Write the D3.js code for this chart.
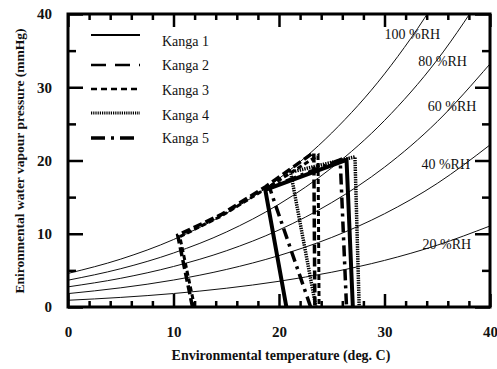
<!DOCTYPE html>
<html>
<head>
<meta charset="utf-8">
<script src="https://cdn.jsdelivr.net/npm/d3@7"></script>
<style>
  html, body { margin: 0; padding: 0; background: #fff; }
  svg { display: block; font-family: "Liberation Serif", "Times New Roman", serif; }
</style>
</head>
<body>
<div id="chart"></div>
<script>
// Water vapour pressure vs temperature, with RH curves and Kanga regions

const temps = [0, 5, 10, 15, 20, 25, 30, 35, 40]

// RH curves (mmHg), read at each temperature above
const rh100 = [4.58, 6.54, 9.21, 12.79, 17.54, 23.76, 31.82, 42.18, 55.32]
const rh80 = [3.66, 5.23, 7.37, 10.23, 14.03, 19.01, 25.46, 33.74, 44.26]
const rh60 = [2.75, 3.92, 5.53, 7.67, 10.52, 14.26, 19.09, 25.31, 33.19]
const rh40 = [1.83, 2.62, 3.68, 5.12, 7.02, 9.50, 12.73, 16.87, 22.13]
const rh20 = [0.92, 1.31, 1.84, 2.56, 3.51, 4.75, 6.36, 8.44, 11.06]
const rhSeries = [rh100, rh80, rh60, rh40, rh20]

const rhLabels = ['100 %RH', '80 %RH', '60 %RH', '40 %RH', '20 %RH']
const rhLabelAt = [[30.0, 36.6], [33.2, 32.9], [34.1, 26.7], [33.5, 18.9], [33.6, 7.85]]

// Kanga outlines: [temperature, vapour pressure]
const kangaNames = ['Kanga 1', 'Kanga 2', 'Kanga 3', 'Kanga 4', 'Kanga 5']
const kanga1 = [[20.7, 0], [18.7, 16.0], [26.4, 20.1], [27.0, 0]]
const kanga2 = [[11.8, 0], [10.4, 9.8], [14.5, 12.6], [18.7, 16.4], [23.3, 21.1], [23.4, 0]]
const kanga3 = [[12.0, 0], [10.6, 9.6], [14.5, 12.4], [18.8, 16.2], [23.7, 20.7], [23.8, 0]]
const kanga4 = [[23.5, 0], [21.1, 18.4], [27.2, 20.5], [27.6, 0]]
const kanga5 = [[23.0, 0], [19.1, 16.3], [25.8, 20.1], [26.4, 0]]
const kangaData = [kanga1, kanga2, kanga3, kanga4, kanga5]

const xTicks = [0, 10, 20, 30, 40]
const yTicks = [0, 10, 20, 30, 40]

// Line styles per series (chart / legend)
const styles = [
  { width: 4, dash: null, legendWidth: 2, legendDash: null },
  { width: 3.5, dash: '9,4', legendWidth: 2.5, legendDash: '15,9' },
  { width: 3, dash: '5,3', legendWidth: 2.5, legendDash: '6,4' },
  { width: 3.5, dash: '1.4,1', legendWidth: 3, legendDash: '1.2,1' },
  { width: 3.5, dash: '11,5,3,5', legendWidth: 3.5, legendDash: '14,6,3,6' }
]

const W = 497, H = 369
const margin = { top: 14, right: 7, bottom: 62, left: 68 }
const iw = W - margin.left - margin.right
const ih = H - margin.top - margin.bottom

const svg = d3.select('#chart').append('svg')
  .attr('width', W)
  .attr('height', H)

const g = svg.append('g')
  .attr('transform', `translate(${margin.left},${margin.top})`)

const x = d3.scaleLinear().domain([0, 40]).range([0, iw])
const y = d3.scaleLinear().domain([0, 40]).range([ih, 0])

svg.append('defs').append('clipPath')
  .attr('id', 'plot-clip')
  .append('rect')
  .attr('width', iw)
  .attr('height', ih)

const plot = g.append('g').attr('clip-path', 'url(#plot-clip)')

// RH curves
const curveLine = d3.line()
  .x((d, i) => x(temps[i]))
  .y(d => y(d))
  .curve(d3.curveMonotoneX)

plot.selectAll('.rh')
  .data(rhSeries)
  .join('path')
  .attr('class', 'rh')
  .attr('d', curveLine)
  .attr('fill', 'none')
  .attr('stroke', '#111')
  .attr('stroke-width', 1)

// Kanga outlines
const kLine = d3.line()
  .x(d => x(d[0]))
  .y(d => y(d[1]))

plot.selectAll('.kanga')
  .data(kangaData)
  .join('path')
  .attr('class', 'kanga')
  .attr('d', kLine)
  .attr('fill', 'none')
  .attr('stroke', '#000')
  .attr('stroke-width', (d, i) => styles[i].width)
  .attr('stroke-dasharray', (d, i) => styles[i].dash)
  .attr('stroke-linejoin', 'miter')

// RH labels
g.selectAll('.rh-label')
  .data(rhLabels)
  .join('text')
  .attr('class', 'rh-label')
  .attr('x', (d, i) => x(rhLabelAt[i][0]))
  .attr('y', (d, i) => y(rhLabelAt[i][1]))
  .attr('font-size', 14)
  .attr('fill', '#111')
  .text(d => d)

// Axes: ticks pointing inward on all four sides
function addAxis(axis, transform) {
  const a = g.append('g').attr('transform', transform).call(axis)
  a.select('.domain').remove()
  a.selectAll('line').attr('stroke', '#000')
  return a
}

const xMinor = d3.range(0, 41, 2).filter(v => v % 10 !== 0)
const yMinor = d3.range(0, 41, 5).filter(v => v % 10 !== 0)

addAxis(d3.axisBottom(x).tickValues(xTicks).tickSize(-13).tickPadding(19).tickFormat(d3.format('d')), `translate(0,${ih})`)
addAxis(d3.axisBottom(x).tickValues(xMinor).tickSize(-6).tickFormat(''), `translate(0,${ih})`)
addAxis(d3.axisTop(x).tickValues(xTicks).tickSize(-13).tickFormat(''), 'translate(0,0)')
addAxis(d3.axisTop(x).tickValues(xMinor).tickSize(-6).tickFormat(''), 'translate(0,0)')
addAxis(d3.axisLeft(y).tickValues(yTicks).tickSize(-15).tickPadding(16).tickFormat(d3.format('d')), 'translate(0,0)')
addAxis(d3.axisLeft(y).tickValues(yMinor).tickSize(-8).tickFormat(''), 'translate(0,0)')
addAxis(d3.axisRight(y).tickValues(yTicks).tickSize(-15).tickFormat(''), `translate(${iw},0)`)
addAxis(d3.axisRight(y).tickValues(yMinor).tickSize(-8).tickFormat(''), `translate(${iw},0)`)

g.selectAll('.tick line').attr('stroke-width', 2.5)

g.selectAll('.tick text')
  .style('font-size', '15px')
  .style('font-weight', 'bold')
  .style('font-family', '"Liberation Serif", "Times New Roman", serif')
  .attr('fill', '#111')

// Frame
g.append('rect')
  .attr('width', iw)
  .attr('height', ih)
  .attr('fill', 'none')
  .attr('stroke', '#000')
  .attr('stroke-width', 3)

// Axis titles
svg.append('text')
  .attr('x', margin.left + x(20) + 2)
  .attr('y', 360)
  .attr('text-anchor', 'middle')
  .attr('font-size', 14)
  .attr('font-weight', 'bold')
  .attr('fill', '#111')
  .text('Environmental temperature (deg. C)')

svg.append('text')
  .attr('transform', 'translate(24,161) rotate(-90)')
  .attr('text-anchor', 'middle')
  .attr('font-size', 13.5)
  .attr('font-weight', 'bold')
  .attr('fill', '#111')
  .text('Enironmental water vapour pressure (mmHg)')

// Legend
const legendLineY = [35, 65, 89, 113, 138]
const legendTextY = [41, 65, 90, 115, 138]

const legend = svg.append('g')
legend.selectAll('line')
  .data(kangaNames)
  .join('line')
  .attr('x1', 91)
  .attr('x2', 140)
  .attr('y1', (d, i) => legendLineY[i])
  .attr('y2', (d, i) => legendLineY[i])
  .attr('stroke', '#000')
  .attr('stroke-width', (d, i) => styles[i].legendWidth)
  .attr('stroke-dasharray', (d, i) => styles[i].legendDash)

legend.selectAll('text')
  .data(kangaNames)
  .join('text')
  .attr('x', 162)
  .attr('y', (d, i) => legendTextY[i])
  .attr('dy', '0.35em')
  .attr('font-size', 14)
  .attr('fill', '#111')
  .text(d => d)
</script>
</body>
</html>
